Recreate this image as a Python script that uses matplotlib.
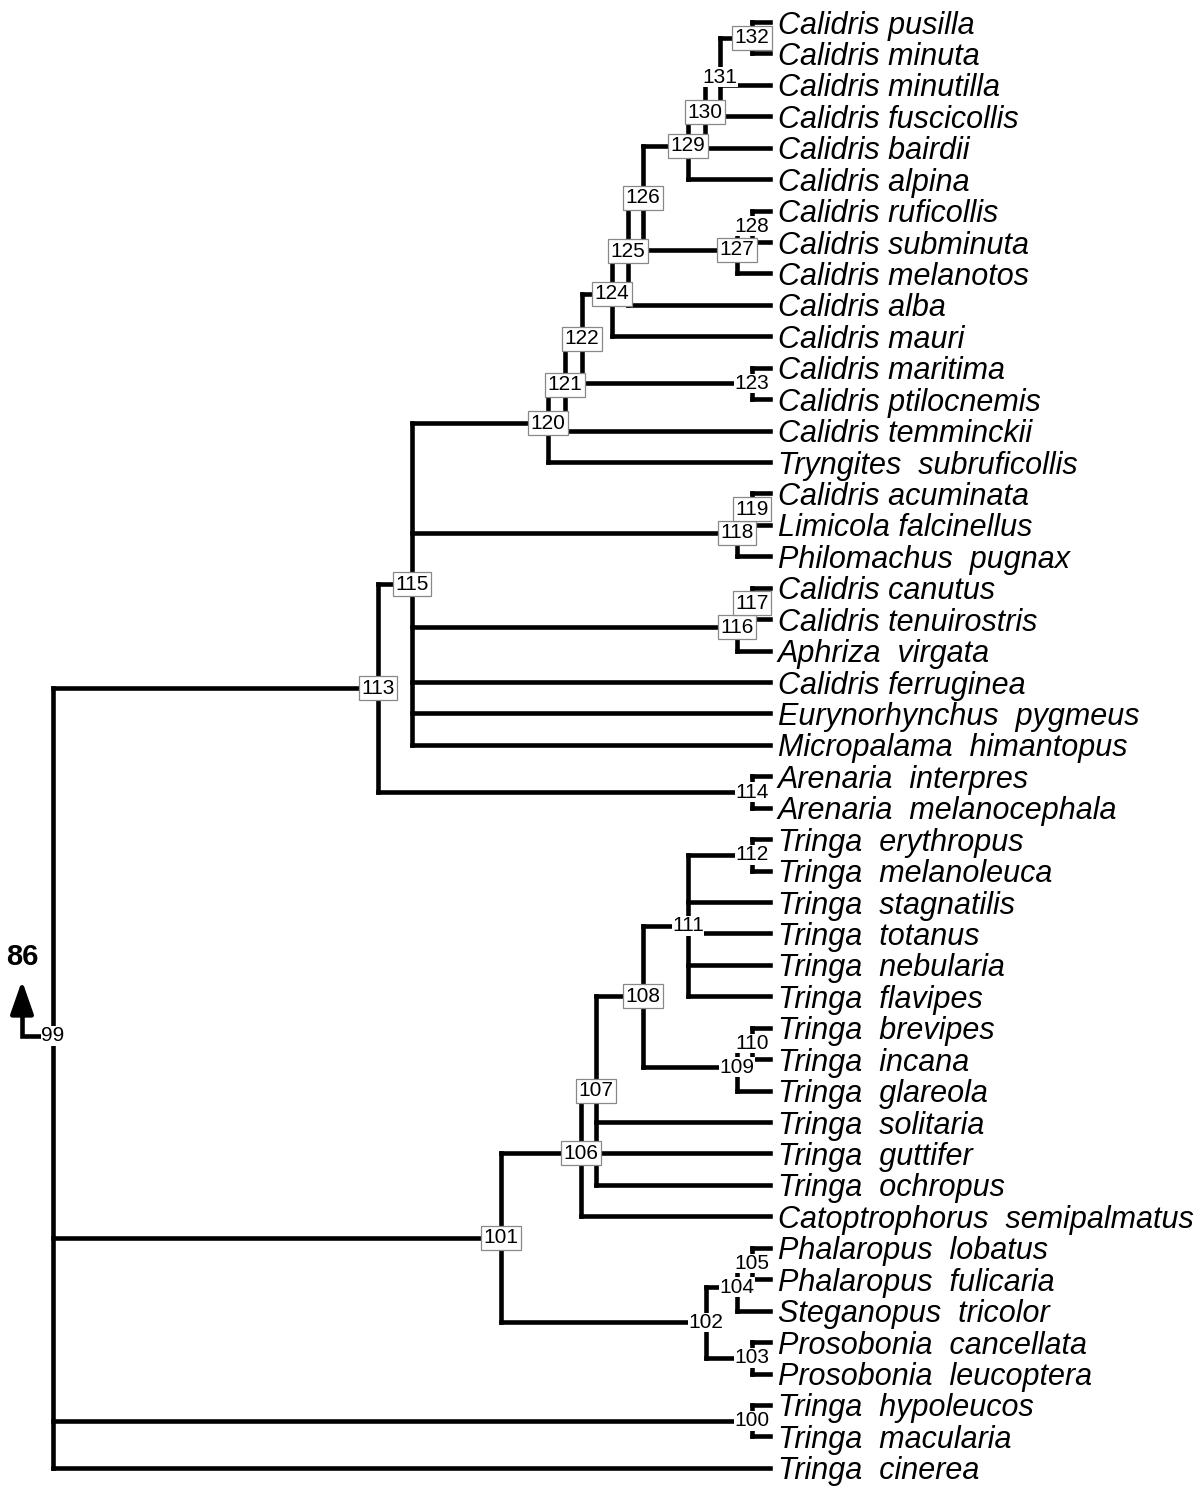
import matplotlib
matplotlib.use("Agg")
import matplotlib.pyplot as plt

plt.rcParams['font.family'] = ['Liberation Sans', 'DejaVu Sans']

# Topologie des Baums (Knoten -> Kinder, von oben nach unten)
children = {
    99: [113, 101, 100, 'Tringa  cinerea'],
    113: [115, 114],
    115: [120, 118, 116, 'Calidris ferruginea', 'Eurynorhynchus  pygmeus', 'Micropalama  himantopus'],
    120: [121, 'Tryngites  subruficollis'],
    121: [122, 'Calidris temminckii'],
    122: [124, 123],
    124: [125, 'Calidris mauri'],
    125: [126, 'Calidris alba'],
    126: [129, 127],
    129: [130, 'Calidris alpina'],
    130: [131, 'Calidris bairdii'],
    131: [132, 'Calidris minutilla', 'Calidris fuscicollis'],
    132: ['Calidris pusilla', 'Calidris minuta'],
    127: [128, 'Calidris melanotos'],
    128: ['Calidris ruficollis', 'Calidris subminuta'],
    123: ['Calidris maritima', 'Calidris ptilocnemis'],
    118: [119, 'Philomachus  pugnax'],
    119: ['Calidris acuminata', 'Limicola falcinellus'],
    116: [117, 'Aphriza  virgata'],
    117: ['Calidris canutus', 'Calidris tenuirostris'],
    114: ['Arenaria  interpres', 'Arenaria  melanocephala'],
    101: [106, 102],
    106: [107, 'Catoptrophorus  semipalmatus'],
    107: [108, 'Tringa  solitaria', 'Tringa  guttifer', 'Tringa  ochropus'],
    108: [111, 109],
    111: [112, 'Tringa  stagnatilis', 'Tringa  totanus', 'Tringa  nebularia', 'Tringa  flavipes'],
    112: ['Tringa  erythropus', 'Tringa  melanoleuca'],
    109: [110, 'Tringa  glareola'],
    110: ['Tringa  brevipes', 'Tringa  incana'],
    102: [104, 103],
    104: [105, 'Steganopus  tricolor'],
    105: ['Phalaropus  lobatus', 'Phalaropus  fulicaria'],
    103: ['Prosobonia  cancellata', 'Prosobonia  leucoptera'],
    100: ['Tringa  hypoleucos', 'Tringa  macularia'],
}

# Knotentiefe (horizontale Lage der Verzweigung)
node_depth = {
    99: 53, 113: 378, 115: 412, 120: 548, 121: 565, 122: 582, 124: 612,
    125: 628, 126: 643, 129: 688, 130: 705, 131: 720, 132: 752, 127: 737,
    128: 752, 123: 752, 118: 737, 119: 752, 116: 737, 117: 752, 114: 752,
    101: 501, 106: 581, 107: 596, 108: 643, 111: 688, 112: 752, 109: 737,
    110: 752, 102: 706, 104: 737, 105: 752, 103: 752, 100: 752,
}
tip_depth = 770

# Knoten mit Rahmen um die Nummer
boxed = [132, 130, 129, 126, 127, 125, 124, 122, 121, 120, 119, 118,
         117, 116, 115, 113, 108, 107, 106, 101]

root = 99
root_label_row = 32.26
outgroup_label = '86'

# Blattreihenfolge und y-Positionen bestimmen
leaf_row = {}
def collect(n):
    for c in children[n]:
        if isinstance(c, str):
            leaf_row[c] = len(leaf_row)
        else:
            collect(c)
collect(root)

node_row = {}
def row_of(n):
    if isinstance(n, str):
        return leaf_row[n]
    if n not in node_row:
        kids = children[n]
        node_row[n] = (row_of(kids[0]) + row_of(kids[-1])) / 2
    return node_row[n]

def depth_of(n):
    return tip_depth if isinstance(n, str) else node_depth[n]

fig = plt.figure(figsize=(12, 14.92), dpi=100)
ax = fig.add_axes([0, 0, 1, 1])
ax.set_xlim(0, 1200)
ax.set_ylim(46.77, -0.70)
ax.axis('off')

lw = 3.3
for n, kids in children.items():
    x = node_depth[n]
    ys = [row_of(c) for c in kids]
    ax.plot([x, x], [ys[0], ys[-1]], color='black', lw=lw, solid_capstyle='projecting', zorder=1)
    for c, y in zip(kids, ys):
        ax.plot([x, depth_of(c)], [y, y], color='black', lw=lw, solid_capstyle='projecting', zorder=1)

for name, r in leaf_row.items():
    ax.text(tip_depth + 8, r, name, fontsize=22, style='italic',
            ha='left', va='center_baseline', zorder=3)

for n in children:
    if n == root:
        continue
    if n in boxed:
        bb = dict(boxstyle='square,pad=0.12', facecolor='white', edgecolor='#888888', lw=0.9)
    else:
        bb = dict(boxstyle='square,pad=0.02', facecolor='white', edgecolor='none')
    ax.text(node_depth[n], row_of(n), str(n), fontsize=15, ha='center', va='center',
            bbox=bb, zorder=4)

# Wurzel mit Pfeil zum übergeordneten Knoten
ax.text(node_depth[root], root_label_row, str(root), fontsize=15, ha='center', va='center',
        bbox=dict(boxstyle='square,pad=0.02', facecolor='white', edgecolor='none'), zorder=4)
ax.plot([42, 22, 22], [root_label_row, root_label_row, 31.2], color='black', lw=lw,
        solid_joinstyle='miter', zorder=2)
ax.annotate('', xy=(22, 30.5), xytext=(22, 31.4),
            arrowprops=dict(arrowstyle='-|>,head_length=2.0,head_width=0.7',
                            lw=lw, color='black', shrinkA=0, shrinkB=0))
ax.text(22, 29.75, outgroup_label, fontsize=21, fontweight='bold', ha='center', va='center')

fig.savefig('out.png', dpi=100, facecolor='white')
